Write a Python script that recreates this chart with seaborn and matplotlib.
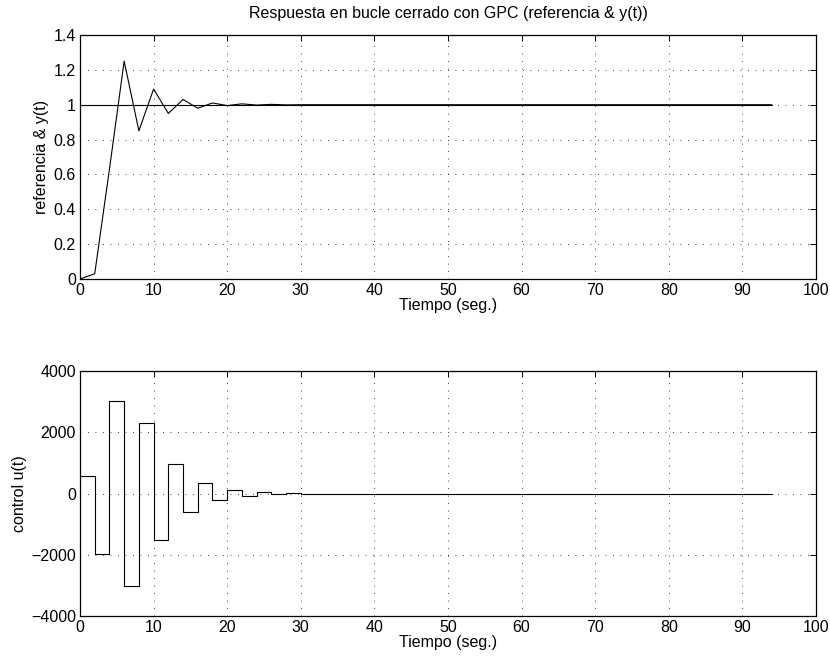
import numpy as np
import pandas as pd
import matplotlib
matplotlib.use("Agg")
import matplotlib.pyplot as plt
import seaborn as sns

# time samples (s), sample time 2 s
t = np.arange(0, 95, 2)

# closed-loop output y(t)
y_head = [0.0, 0.03, 0.63, 1.25, 0.85, 1.09, 0.95, 1.03, 0.98, 1.01,
          0.995, 1.005, 0.998, 1.002, 0.999, 1.0]
y_vals = y_head + [1.0] * (len(t) - len(y_head))

# reference
ref_vals = [1.0] * len(t)

# control action u(t)
u_head = [580, -1960, 3030, -3020, 2290, -1530, 950, -590, 350, -220,
          125, -78, 40, -30, 20, -10]
u_vals = u_head + [0] * (len(t) - len(u_head))

title = "Respuesta en bucle cerrado con GPC (referencia & y(t))"
xlabel = "Tiempo (seg.)"
ylabel_top = "referencia & y(t)"
ylabel_bot = "control u(t)"

sns.set_theme(style="white")
plt.rcParams["font.family"] = ["Liberation Sans", "DejaVu Sans"]
plt.rcParams["text.color"] = "black"
plt.rcParams["axes.labelcolor"] = "black"
FS = 11.5
plt.rcParams["font.size"] = FS

df = pd.DataFrame({"t": t, "y": y_vals, "ref": ref_vals, "u": u_vals})

fig = plt.figure(figsize=(8.3, 6.61), dpi=100)
W, H = 830, 661
ax1 = fig.add_axes([80 / W, 1 - 279 / H, 736 / W, 244 / H])
ax2 = fig.add_axes([80 / W, 1 - 616 / H, 736 / W, 245 / H])

sns.lineplot(data=df, x="t", y="ref", ax=ax1, color="black", lw=0.8)
sns.lineplot(data=df, x="t", y="y", ax=ax1, color="black", lw=0.8)
sns.lineplot(data=df, x="t", y="u", ax=ax2, color="black", lw=0.8,
             drawstyle="steps-post")

ax1.set_xlim(0, 100)
ax1.set_ylim(0, 1.4)
ax1.set_yticks(np.arange(0, 1.41, 0.2))
ax1.set_yticklabels(["0", "0.2", "0.4", "0.6", "0.8", "1", "1.2", "1.4"])
ax2.set_xlim(0, 100)
ax2.set_ylim(-4000, 4000)
ax2.set_yticks([-4000, -2000, 0, 2000, 4000])
ax2.set_yticklabels(["−4000", "−2000", "0", "2000", "4000"])

for ax, yl in [(ax1, ylabel_top), (ax2, ylabel_bot)]:
    ax.set_xticks(np.arange(0, 101, 10))
    ax.set_xlabel(xlabel, fontsize=FS, labelpad=0, color="black")
    ax.set_ylabel(yl, fontsize=FS, labelpad=3, color="black")
    ax.grid(True, color="black", linestyle=(0, (1, 8)), linewidth=0.6)
    ax.tick_params(direction="in", length=4, width=0.7, top=True, right=True,
                   labelsize=FS, pad=3, colors="black")
    for s in ax.spines.values():
        s.set_visible(True)
        s.set_color("black")
        s.set_linewidth(0.9)

ax1.set_title(title, fontsize=FS, pad=12, color="black")

fig.savefig("out.png", dpi=100, facecolor="white")
